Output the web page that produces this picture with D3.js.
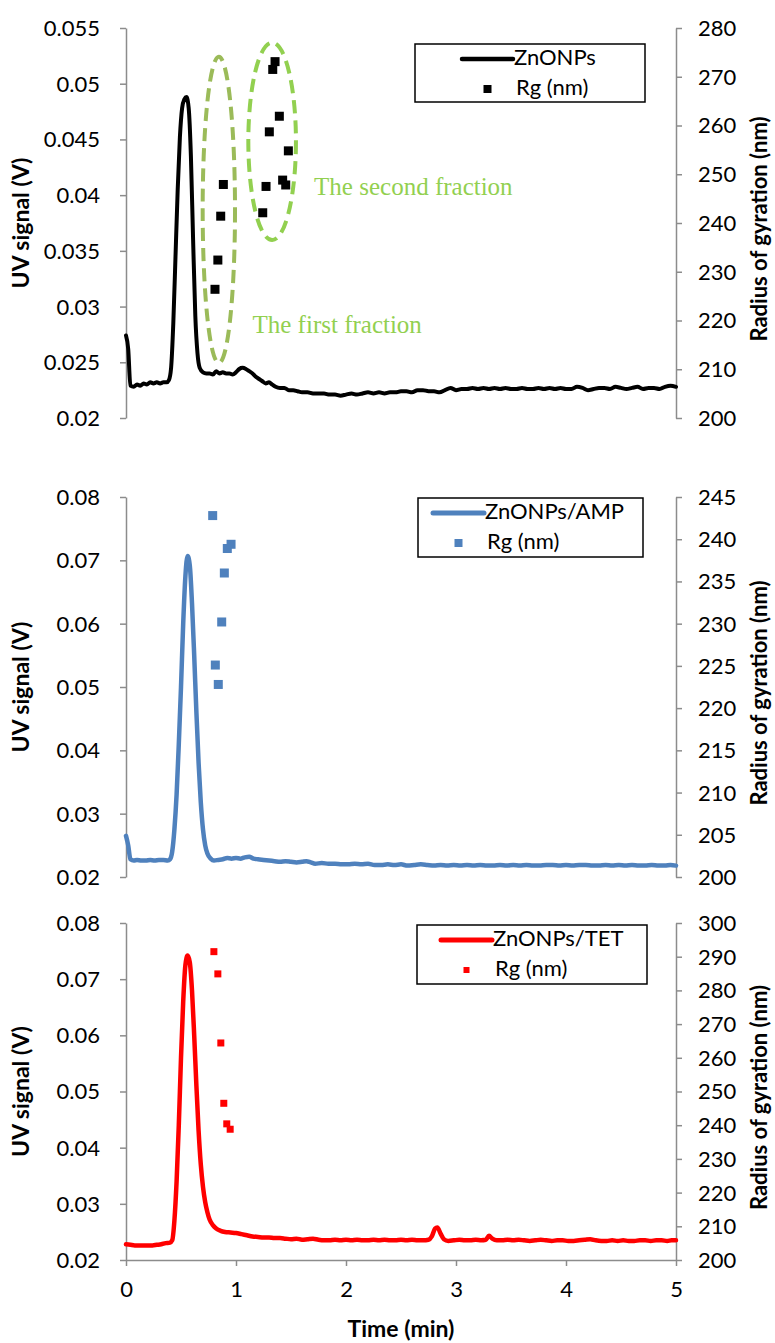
<!DOCTYPE html>
<html>
<head>
<meta charset="utf-8">
<script src="https://cdn.jsdelivr.net/npm/d3@7/dist/d3.min.js"></script>
<style>
  html, body { margin: 0; padding: 0; background: #fff; }
  svg { display: block; }
</style>
</head>
<body>
<svg id="chart" width="775" height="1343"></svg>
<script>
// ---- time axis ----
const timeTicks = [0, 1, 2, 3, 4, 5];

// ---- ZnONPs: UV trace [time (min), signal (V)] and Rg [time, nm] ----
const znTrace = [
  [0.00,0.0274],[0.02,0.0262],[0.04,0.0229],[0.07,0.0228],[0.10,0.0230],[0.13,0.0229],[0.16,0.0231],
  [0.19,0.0230],[0.22,0.0232],[0.25,0.0231],[0.28,0.0232],[0.31,0.0231],[0.34,0.0232],[0.37,0.0232],
  [0.39,0.0234],[0.41,0.0245],[0.43,0.0285],[0.45,0.0345],[0.47,0.0405],[0.49,0.0452],[0.51,0.0478],
  [0.53,0.0486],[0.55,0.0488],[0.57,0.0478],[0.59,0.0435],[0.61,0.0360],[0.63,0.0292],[0.65,0.0258],
  [0.67,0.0245],[0.70,0.0241],[0.73,0.0240],[0.76,0.0240],[0.79,0.0239],[0.82,0.0242],[0.85,0.0240],
  [0.88,0.0241],[0.91,0.0240],[0.94,0.0240],[0.97,0.0239],[1.00,0.0241],[1.03,0.0244],[1.06,0.0245],
  [1.09,0.0244],[1.12,0.0242],[1.15,0.0240],[1.18,0.0237],[1.21,0.0235],[1.24,0.0233],[1.27,0.0231],
  [1.30,0.0232],[1.33,0.0230],[1.36,0.0228],[1.40,0.0227],[1.44,0.0227],[1.48,0.0225],[1.52,0.0225],
  [1.56,0.0224],[1.60,0.0223],[1.65,0.0223],[1.70,0.0222],[1.75,0.0222],[1.80,0.0222],[1.85,0.0221],
  [1.90,0.0221],[1.95,0.0220],[2.00,0.0221],[2.05,0.0222],[2.10,0.0221],[2.15,0.0222],[2.20,0.0223],
  [2.25,0.0222],[2.30,0.0223],[2.35,0.0222],[2.40,0.0223],[2.45,0.0223],[2.50,0.0224],[2.55,0.0224],
  [2.60,0.0223],[2.65,0.0225],[2.70,0.0225],[2.75,0.0224],[2.80,0.0224],[2.85,0.0223],[2.90,0.0225],
  [2.95,0.0227],[3.00,0.0225],[3.05,0.0226],[3.10,0.0226],[3.15,0.0227],[3.20,0.0226],[3.25,0.0227],
  [3.30,0.0226],[3.35,0.0227],[3.40,0.0226],[3.45,0.0227],[3.50,0.0226],[3.55,0.0226],[3.60,0.0227],
  [3.65,0.0226],[3.70,0.0226],[3.75,0.0227],[3.80,0.0226],[3.85,0.0227],[3.90,0.0226],[3.95,0.0227],
  [4.00,0.0226],[4.05,0.0226],[4.10,0.0228],[4.15,0.0227],[4.20,0.0225],[4.25,0.0226],[4.30,0.0227],
  [4.35,0.0227],[4.40,0.0226],[4.45,0.0228],[4.50,0.0227],[4.55,0.0226],[4.60,0.0227],[4.65,0.0228],
  [4.70,0.0226],[4.75,0.0227],[4.80,0.0227],[4.85,0.0226],[4.90,0.0228],[4.95,0.0229],[5.00,0.0228]
];
const znRg = [
  [0.809,226.4],[0.835,232.4],[0.861,241.4],[0.885,247.9],
  [1.243,242.1],[1.273,247.5],[1.303,258.7],[1.334,271.5],[1.355,273.1],
  [1.394,261.9],[1.424,248.8],[1.452,247.8],[1.476,254.8]
];
// the two Rg fractions, as [t0, t1, rg0, rg1]
const fractions = [
  { name: "The first fraction",  box: [0.697, 0.991, 211.3, 274.1], colour: "#9bbb59", label: [1.15, 217.5] },
  { name: "The second fraction", box: [1.112, 1.545, 236.5, 277.0], colour: "#92d050", label: [1.71, 245.8] }
];

// ---- ZnONPs/AMP ----
const ampTrace = [
  [0.00,0.0265],[0.02,0.0250],[0.04,0.0228],[0.07,0.0226],[0.10,0.0227],[0.14,0.0226],[0.18,0.0226],
  [0.22,0.0227],[0.26,0.0226],[0.30,0.0227],[0.34,0.0227],[0.38,0.0226],[0.40,0.0228],[0.42,0.0240],
  [0.44,0.0275],[0.46,0.0330],[0.48,0.0410],[0.50,0.0500],[0.52,0.0600],[0.54,0.0675],[0.56,0.0707],
  [0.58,0.0692],[0.60,0.0632],[0.62,0.0550],[0.64,0.0460],[0.66,0.0380],[0.68,0.0318],[0.70,0.0275],
  [0.72,0.0250],[0.74,0.0237],[0.77,0.0229],[0.80,0.0226],[0.84,0.0227],[0.88,0.0228],[0.92,0.0230],
  [0.96,0.0229],[1.00,0.0230],[1.04,0.0229],[1.08,0.0231],[1.12,0.0232],[1.16,0.0229],[1.20,0.0228],
  [1.25,0.0227],[1.30,0.0226],[1.35,0.0225],[1.40,0.0224],[1.45,0.0225],[1.50,0.0224],[1.55,0.0223],
  [1.60,0.0224],[1.64,0.0225],[1.68,0.0223],[1.72,0.0221],[1.78,0.0222],[1.84,0.0221],[1.90,0.0221],
  [1.96,0.0220],[2.02,0.0220],[2.08,0.0221],[2.14,0.0220],[2.20,0.0221],[2.26,0.0219],[2.32,0.0219],
  [2.38,0.0220],[2.44,0.0219],[2.50,0.0220],[2.56,0.0218],[2.62,0.0219],[2.68,0.0220],[2.74,0.0219],
  [2.80,0.0218],[2.86,0.0219],[2.92,0.0218],[2.98,0.0219],[3.04,0.0218],[3.10,0.0219],[3.16,0.0218],
  [3.22,0.0219],[3.28,0.0218],[3.34,0.0218],[3.40,0.0219],[3.46,0.0218],[3.52,0.0219],[3.58,0.0218],
  [3.64,0.0219],[3.70,0.0218],[3.76,0.0218],[3.82,0.0219],[3.88,0.0219],[3.94,0.0218],[4.00,0.0219],
  [4.06,0.0218],[4.12,0.0219],[4.18,0.0219],[4.24,0.0218],[4.30,0.0218],[4.36,0.0219],[4.42,0.0218],
  [4.48,0.0219],[4.54,0.0218],[4.60,0.0219],[4.66,0.0218],[4.72,0.0218],[4.78,0.0219],[4.84,0.0218],
  [4.90,0.0218],[4.95,0.0219],[5.00,0.0218]
];
const ampRg = [
  [0.788,242.8],[0.812,225.1],[0.839,222.8],[0.870,230.2],[0.894,236.0],[0.921,238.9],[0.955,239.4]
];

// ---- ZnONPs/TET ----
const tetTrace = [
  [0.00,0.0228],[0.04,0.0227],[0.08,0.0226],[0.12,0.0226],[0.16,0.0226],[0.20,0.0226],[0.24,0.0226],
  [0.28,0.0227],[0.32,0.0228],[0.36,0.0230],[0.40,0.0231],[0.42,0.0235],[0.44,0.0270],[0.46,0.0340],
  [0.48,0.0440],[0.50,0.0560],[0.52,0.0660],[0.54,0.0725],[0.56,0.0742],[0.58,0.0730],[0.60,0.0680],
  [0.62,0.0600],[0.64,0.0510],[0.66,0.0430],[0.68,0.0370],[0.70,0.0330],[0.72,0.0303],[0.74,0.0285],
  [0.76,0.0272],[0.79,0.0262],[0.82,0.0256],[0.86,0.0252],[0.90,0.0250],[0.95,0.0249],[1.00,0.0248],
  [1.05,0.0246],[1.10,0.0244],[1.15,0.0242],[1.20,0.0241],[1.25,0.0240],[1.30,0.0240],[1.35,0.0239],
  [1.40,0.0239],[1.45,0.0238],[1.50,0.0237],[1.55,0.0238],[1.60,0.0236],[1.65,0.0237],[1.70,0.0238],
  [1.75,0.0236],[1.80,0.0235],[1.85,0.0235],[1.90,0.0236],[1.95,0.0235],[2.00,0.0236],[2.05,0.0235],
  [2.10,0.0236],[2.15,0.0235],[2.20,0.0235],[2.25,0.0236],[2.30,0.0235],[2.35,0.0236],[2.40,0.0235],
  [2.45,0.0235],[2.50,0.0236],[2.55,0.0235],[2.60,0.0236],[2.65,0.0235],[2.70,0.0235],[2.75,0.0236],
  [2.78,0.0242],[2.81,0.0256],[2.83,0.0258],[2.86,0.0247],[2.89,0.0237],[2.93,0.0234],[2.98,0.0235],
  [3.03,0.0236],[3.08,0.0235],[3.13,0.0235],[3.18,0.0236],[3.23,0.0235],[3.27,0.0236],[3.30,0.0243],
  [3.33,0.0238],[3.37,0.0235],[3.42,0.0235],[3.47,0.0236],[3.52,0.0235],[3.57,0.0236],[3.62,0.0235],
  [3.67,0.0234],[3.72,0.0235],[3.77,0.0236],[3.82,0.0235],[3.87,0.0234],[3.92,0.0235],[3.97,0.0235],
  [4.02,0.0234],[4.07,0.0234],[4.12,0.0235],[4.17,0.0236],[4.22,0.0237],[4.27,0.0235],[4.32,0.0234],
  [4.37,0.0234],[4.42,0.0235],[4.47,0.0234],[4.52,0.0235],[4.57,0.0234],[4.62,0.0234],[4.67,0.0235],
  [4.72,0.0235],[4.77,0.0234],[4.82,0.0235],[4.87,0.0235],[4.92,0.0234],[4.96,0.0235],[5.00,0.0235]
];
const tetRg = [
  [0.799,291.5],[0.835,284.9],[0.862,264.4],[0.889,246.5],[0.916,240.4],[0.947,238.8]
];

// ---- axis tick values ----
const uvTicksZn  = [0.02, 0.025, 0.03, 0.035, 0.04, 0.045, 0.05, 0.055];
const rgTicksZn  = [200, 210, 220, 230, 240, 250, 260, 270, 280];
const uvTicksAmp = [0.02, 0.03, 0.04, 0.05, 0.06, 0.07, 0.08];
const rgTicksAmp = [200, 205, 210, 215, 220, 225, 230, 235, 240, 245];
const uvTicksTet = [0.02, 0.03, 0.04, 0.05, 0.06, 0.07, 0.08];
const rgTicksTet = [200, 210, 220, 230, 240, 250, 260, 270, 280, 290, 300];

// ---- layout ----
const svg = d3.select("#chart");
const plotLeft = 126, plotRight = 676;
const x = d3.scaleLinear().domain([0, 5]).range([plotLeft, plotRight]);
const AXIS_GREY = "#8c8c8c";
const SANS = "Lato, 'Open Sans', sans-serif";
const TICK_SIZE = "22px";

const panels = [
  { trace: znTrace, rg: znRg, colour: "#000000", name: "ZnONPs", top: 28, bottom: 418,
    uv: uvTicksZn, rgTicks: rgTicksZn, lineW: 4, mark: 9, legend: { x: 415, y: 44, w: 230, h: 58, lx0: 462, lx1: 513 } },
  { trace: ampTrace, rg: ampRg, colour: "#4f81bd", name: "ZnONPs/AMP", top: 497, bottom: 877,
    uv: uvTicksAmp, rgTicks: rgTicksAmp, lineW: 4.5, mark: 9, legend: { x: 418, y: 498, w: 225, h: 59, lx0: 433, lx1: 484 } },
  { trace: tetTrace, rg: tetRg, colour: "#ff0000", name: "ZnONPs/TET", top: 923, bottom: 1260,
    uv: uvTicksTet, rgTicks: rgTicksTet, lineW: 4.5, mark: 7, legend: { x: 417, y: 925, w: 230, h: 59, lx0: 441, lx1: 492 } }
];

function fmtUV(d) { return String(+d.toFixed(3)); }

function styleAxis(g) {
  g.selectAll("path.domain").attr("stroke", AXIS_GREY).attr("stroke-width", 1.5);
  g.selectAll(".tick line").attr("stroke", AXIS_GREY).attr("stroke-width", 1.5);
  g.selectAll(".tick text").attr("fill", "#000").style("font-family", SANS).style("font-size", TICK_SIZE);
}

panels.forEach((p, i) => {
  const yL = d3.scaleLinear().domain([p.uv[0], p.uv[p.uv.length - 1]]).range([p.bottom, p.top]);
  const yR = d3.scaleLinear().domain([p.rgTicks[0], p.rgTicks[p.rgTicks.length - 1]]).range([p.bottom, p.top]);

  const g = svg.append("g").attr("class", "panel-" + i);

  // left axis: UV signal
  const gl = g.append("g").attr("transform", `translate(${plotLeft},0)`)
    .call(d3.axisLeft(yL).tickValues(p.uv).tickFormat(fmtUV).tickSize(6).tickSizeOuter(0).tickPadding(20));
  styleAxis(gl);
  gl.selectAll(".tick text").attr("dy", "0.34em");

  // right axis: radius of gyration
  const gr = g.append("g").attr("transform", `translate(${plotRight},0)`)
    .call(d3.axisRight(yR).tickValues(p.rgTicks).tickFormat(d3.format("d")).tickSize(6).tickSizeOuter(0).tickPadding(16));
  styleAxis(gr);
  gr.selectAll(".tick text").attr("dy", "0.34em");

  // time axis only on the lowest panel
  if (i === panels.length - 1) {
    const gx = g.append("g").attr("transform", `translate(0,${p.bottom})`)
      .call(d3.axisBottom(x).tickValues(timeTicks).tickFormat(d3.format("d")).tickSize(6).tickSizeOuter(0).tickPadding(15));
    styleAxis(gx);
    g.append("text")
      .attr("x", (plotLeft + plotRight) / 2).attr("y", 1331)
      .attr("text-anchor", "middle").attr("dominant-baseline", "middle")
      .style("font-family", SANS).style("font-weight", "bold").style("font-size", "23px")
      .text("Time (min)");
  }

  // axis titles
  const midY = (p.top + p.bottom) / 2;
  g.append("text")
    .attr("transform", `translate(23,${midY}) rotate(-90)`)
    .attr("text-anchor", "middle").attr("dominant-baseline", "middle")
    .style("font-family", SANS).style("font-weight", "bold").style("font-size", "23px")
    .text("UV signal (V)");
  g.append("text")
    .attr("transform", `translate(761,${midY + 6}) rotate(-90)`)
    .attr("text-anchor", "middle").attr("dominant-baseline", "middle")
    .style("font-family", SANS).style("font-weight", "bold").style("font-size", "22px")
    .text("Radius of gyration (nm)");

  // UV trace
  const line = d3.line().x(d => x(d[0])).y(d => yL(d[1])).curve(d3.curveMonotoneX);
  g.append("path").datum(p.trace)
    .attr("d", line)
    .attr("fill", "none").attr("stroke", p.colour).attr("stroke-width", p.lineW)
    .attr("stroke-linejoin", "round").attr("stroke-linecap", "round");

  // Rg squares
  g.append("g").selectAll("rect").data(p.rg).join("rect")
    .attr("x", d => x(d[0]) - p.mark / 2).attr("y", d => yR(d[1]) - p.mark / 2)
    .attr("width", p.mark).attr("height", p.mark)
    .attr("fill", p.colour);

  // fraction outlines on the first panel
  if (i === 0) {
    fractions.forEach(f => {
      const [t0, t1, r0, r1] = f.box;
      const cx = (x(t0) + x(t1)) / 2, cy = (yR(r0) + yR(r1)) / 2;
      g.append("ellipse")
        .attr("cx", cx).attr("cy", cy)
        .attr("rx", Math.abs(x(t1) - x(t0)) / 2).attr("ry", Math.abs(yR(r1) - yR(r0)) / 2)
        .attr("fill", "none").attr("stroke", f.colour).attr("stroke-width", 4)
        .attr("stroke-dasharray", "13 7");
      g.append("text")
        .attr("x", x(f.label[0])).attr("y", yR(f.label[1]))
        .attr("text-anchor", "start")
        .style("font-family", "'Liberation Serif', 'Times New Roman', serif").style("font-size", "25px")
        .attr("fill", "#92d050")
        .text(f.name);
    });
  }

  // legend
  const L = p.legend;
  const lg = g.append("g");
  lg.append("rect").attr("x", L.x).attr("y", L.y).attr("width", L.w).attr("height", L.h)
    .attr("fill", "#fff").attr("stroke", "#000").attr("stroke-width", 1.5);
  const row1 = L.y + 15, row2 = L.y + 45;
  lg.append("line").attr("x1", L.lx0).attr("x2", L.lx1).attr("y1", row1).attr("y2", row1)
    .attr("stroke", p.colour).attr("stroke-width", p.lineW + 0.5).attr("stroke-linecap", "round");
  lg.append("text").attr("x", L.lx1 + 1).attr("y", row1).attr("dominant-baseline", "middle")
    .style("font-family", SANS).style("font-size", TICK_SIZE).text(p.name);
  const mx = (L.lx0 + L.lx1) / 2;
  const ms = p.mark - 1;
  lg.append("rect").attr("x", mx - ms / 2).attr("y", row2 - ms / 2).attr("width", ms).attr("height", ms)
    .attr("fill", p.colour);
  lg.append("text").attr("x", L.lx1 + 3).attr("y", row2).attr("dominant-baseline", "middle")
    .style("font-family", SANS).style("font-size", TICK_SIZE).text("Rg (nm)");
});
</script>
</body>
</html>
